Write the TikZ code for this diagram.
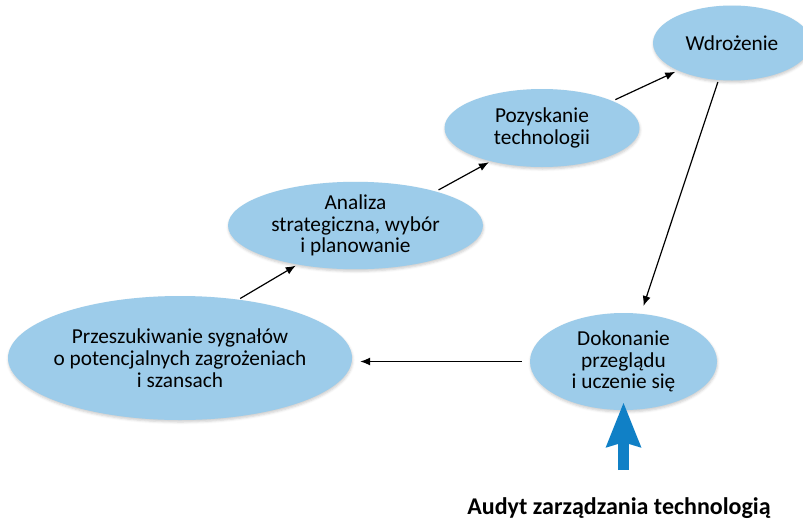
\documentclass[tikz,border=0pt]{standalone}
\usepackage{fontspec}
\setmainfont{Carlito}
\usetikzlibrary{shapes.geometric,arrows.meta,shadows.blur}
\definecolor{stagefill}{RGB}{157,204,234}
\definecolor{auditblue}{RGB}{16,128,198}
\tikzset{
  stage/.style={ellipse, fill=stagefill, inner sep=0pt, inner xsep=-12pt, align=center,
    font=\fontsize{21.3}{21.8}\selectfont,
    blur shadow={shadow xshift=0.5pt, shadow yshift=-2pt, shadow blur radius=2.5pt, shadow opacity=20}},
  flow/.style={-{Latex[length=10pt,width=8pt]}, line width=1.2pt, black},
  auditarrow/.style={line width=10.5pt, auditblue, -{Stealth[length=44pt,width=33pt,inset=4pt]}}
}
\begin{document}
\begin{tikzpicture}[x=1pt,y=-1pt]
\useasboundingbox (0,0) rectangle (803,523);
% process stages
\node[stage, minimum width=344pt, minimum height=124pt] (scan) at (180,358)
  {Przeszukiwanie sygnałów\\o potencjalnych zagrożeniach\\i szansach};
\node[stage, minimum width=255pt, minimum height=87pt] (plan) at (355.5,225.5)
  {Analiza\\strategiczna, wybór\\i planowanie};
\node[stage, minimum width=195pt, minimum height=78pt] (acq) at (542,128)
  {Pozyskanie\\technologii};
\node[stage, minimum width=158pt, minimum height=75pt] (impl) at (732,43)
  {Wdrożenie};
\node[stage, minimum width=187pt, minimum height=97pt] (review) at (623.5,361.5)
  {Dokonanie\\przeglądu\\i uczenie się};
% cycle connectors
\draw[flow, shorten <=2pt, shorten >=2pt] (scan.45) -- (plan.214);
\draw[flow, shorten <=3pt, shorten >=2pt] (plan.23) -- (acq.213);
\draw[flow, shorten <=3pt, shorten >=3pt] (acq.21) -- (impl.207);
\draw[flow, shorten <=2pt, shorten >=8pt] (impl.250) -- (review.70);
\draw[flow, shorten <=8pt, shorten >=8pt] (review.west) -- (review.west -| scan.east);
% audit input
\coordinate (auditsrc) at (review.south |- 0,470);
\draw[auditarrow, shorten >=-8pt] (auditsrc) -- (review.south);
\node[font=\bfseries\fontsize{24}{26}\selectfont] (audit) at (619,508) {Audyt zarządzania technologią};
\end{tikzpicture}
\end{document}
